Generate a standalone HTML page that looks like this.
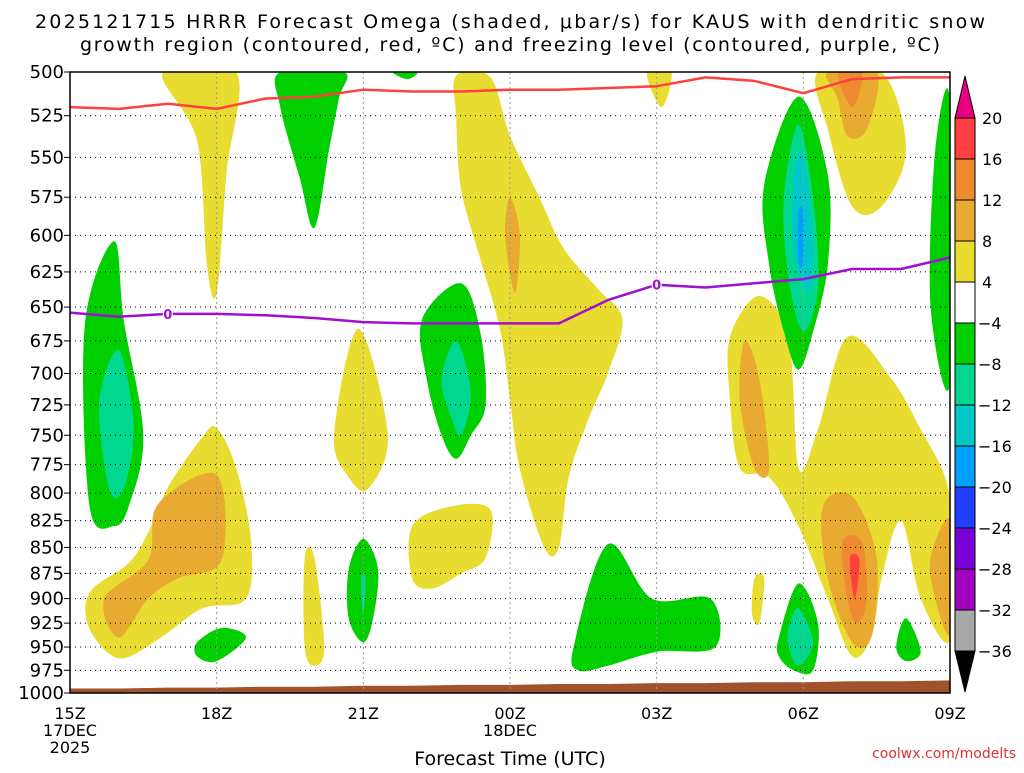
<!DOCTYPE html>
<html><head><meta charset="utf-8"><style>
body{margin:0;background:#fff;width:1024px;height:768px;overflow:hidden;font-family:"Liberation Sans",sans-serif}
svg text{font-family:"DejaVu Sans","Liberation Sans",sans-serif}
</style></head><body>
<svg id="chart" width="1024" height="768" xmlns="http://www.w3.org/2000/svg">
<g id="fills"></g>
<g id="grid"></g>
<g id="lines"></g>
<g id="axes"></g>
<g id="cbar"></g>
<text x="510" y="28" font-size="19" text-anchor="middle" textLength="950">2025121715 HRRR Forecast Omega (shaded, μbar/s) for KAUS with dendritic snow</text>
<text x="510" y="51" font-size="19" text-anchor="middle" textLength="860">growth region (contoured, red, ºC) and freezing level (contoured, purple, ºC)</text>
<text x="510" y="765" font-size="19" text-anchor="middle">Forecast Time (UTC)</text>
<text x="1016" y="758" font-size="14" text-anchor="end" fill="#e03030">coolwx.com/modelts</text>
</svg>
<script>
const NS="http://www.w3.org/2000/svg";
const pTicks=[500,525,550,575,600,625,650,675,700,725,750,775,800,825,850,875,900,925,950,975,1000];
const tTickHours=[0,3,6,9,12,15,18];
const tTickLabels=["15Z","18Z","21Z","00Z","03Z","06Z","09Z"];
const hours=[0,1,2,3,4,5,6,7,8,9,10,11,12,13,14,15,16,17,18];
const dgzTop=[520,521,518,521,515,514,510,511,511,510,510,509,508,503,505,512,504,503,503];
const freezLvl=[654,657,655,655,656,658,661,662,662,662,662,645,634,636,633,630,623,623,615];
const groundP=[995,995,994,994,993,993,992,992,991,991,990,990,989,989,988,988,987,987,986];
const cbLabels=["20","16","12","8","4","−4","−8","−12","−16","−20","−24","−28","−32","−36"];
const cbColors=["#ff4040","#f08a30","#e8aa30","#e8dc30","#ffffff","#00d000","#00d890","#00c8c8","#00a0ff","#2040ff","#7a00d8","#a000c0","#a8a8a8"];
const Y="#e8dc30",O="#e8aa30",OR="#f08a30",R="#ff4040",G="#00d000",T="#00d890",C="#00c8c8",B="#00a0ff";
const regions=[
[Y,[[1.9,500],[3.4,500],[3.2,560],[3.0,640],[2.8,620],[2.6,540]]],
[Y,[[7.9,502],[8.6,503],[9.0,537],[9.6,575],[10.1,609],[10.8,637],[11.3,659],[11.0,700],[10.6,737],[10.2,786],[10.0,850],[9.7,850],[9.2,779],[9.0,721],[8.8,667],[8.4,617],[8.0,570],[7.9,526]]],
[O,[[9.0,575],[9.2,600],[9.1,640],[8.9,600]]],
[Y,[[0.4,894],[1.2,865],[1.6,836],[2.0,795],[2.7,752],[3.0,744],[3.4,778],[3.7,843],[3.6,900],[2.7,910],[1.8,942],[1.0,962],[0.4,931]]],
[O,[[0.7,900],[1.6,862],[1.8,810],[3.0,784],[3.1,862],[2.2,880],[1.6,900],[1.0,940]]],
[Y,[[5.4,750],[5.9,666],[6.5,750],[6.1,796],[5.7,786]]],
[Y,[[4.8,860],[5.0,860],[5.2,950],[5.0,970],[4.8,950]]],
[Y,[[7.0,830],[7.8,812],[8.6,815],[8.5,860],[8.0,875],[7.4,890],[7.0,880]]],
[Y,[[11.8,500],[12.3,500],[12.1,520]]],
[Y,[[13.5,672],[14.1,642],[14.7,674],[14.9,778],[15.3,745],[15.9,672],[16.8,704],[17.4,745],[17.9,786],[18,825],[18,943],[17.4,900],[17.0,825],[16.6,880],[16.4,938],[16.0,960],[15.5,900],[14.9,830],[14.3,786],[13.7,778],[13.5,721]]],
[O,[[13.8,675],[14.1,704],[14.3,778],[14.0,778],[13.7,721]]],
[O,[[15.4,812],[16.0,803],[16.5,860],[16.4,938],[16.0,945],[15.5,880]]],
[OR,[[15.8,845],[16.2,845],[16.3,900],[16.1,925],[15.9,900]]],
[R,[[15.95,860],[16.15,862],[16.05,900]]],
[O,[[17.6,860],[18,825],[18,935],[17.7,900]]],
[Y,[[14.0,880],[14.2,880],[14.1,925],[13.95,915]]],
[Y,[[15.3,500],[16.6,500],[17.1,545],[16.6,581],[16.0,581],[15.5,533]]],
[O,[[15.5,500],[16.5,500],[16.3,533],[15.9,537],[15.7,515]]],
[OR,[[15.7,500],[16.2,500],[16.0,520]]],
[G,[[4.3,500],[5.6,500],[5.5,515],[5.3,545],[5.0,595],[4.7,563],[4.3,520]]],
[G,[[6.6,500],[7.1,500],[6.9,504]]],
[G,[[0.3,664],[0.9,604],[1.1,660],[1.5,750],[1.2,812],[0.9,830],[0.4,812]]],
[T,[[0.6,723],[1.0,682],[1.3,742],[1.1,796],[0.8,796]]],
[G,[[7.2,659],[8.0,633],[8.4,670],[8.5,725],[8.2,750],[7.9,770],[7.6,750],[7.3,705]]],
[T,[[7.6,705],[7.9,675],[8.2,715],[8.0,750],[7.8,735]]],
[G,[[5.7,871],[6.0,842],[6.3,871],[6.2,920],[6.0,945],[5.7,920]]],
[T,[[5.95,880],[6.05,880],[6.0,915]]],
[G,[[2.6,945],[3.1,930],[3.6,940],[3.0,965],[2.6,960]]],
[G,[[10.3,950],[11.0,847],[11.9,900],[13.1,900],[13.2,950],[12.0,955],[11.0,970],[10.4,975]]],
[G,[[14.2,567],[14.9,514],[15.5,561],[15.5,620],[15.2,668],[14.9,697],[14.6,668],[14.3,620]]],
[T,[[14.6,576],[14.9,530],[15.2,576],[15.3,635],[15.0,668],[14.7,630]]],
[C,[[14.8,560],[15.0,549],[15.2,605],[15.1,640],[14.8,610]]],
[B,[[14.9,585],[15.0,585],[15.0,618],[14.9,618]]],
[G,[[14.5,940],[14.9,885],[15.3,925],[15.2,975],[14.8,975],[14.5,960]]],
[T,[[14.7,930],[14.9,910],[15.2,945],[14.9,970],[14.7,950]]],
[G,[[16.9,950],[17.1,920],[17.4,955],[17.1,965]]],
[G,[[17.7,545],[18,517],[18,707],[17.6,648]]]
];
const X0=70,X1=950,Y0=72,Y1=693;
const xs=h=>X0+(X1-X0)*h/18;
const ys=p=>Y0+(Y1-Y0)*Math.log(p/500)/Math.log(2);
function mk(tag,attrs,parent){const e=document.createElementNS(NS,tag);for(const k in attrs)e.setAttribute(k,attrs[k]);parent.appendChild(e);return e;}
function smoothClosed(pts){
 const n=pts.length;let d="M"+pts[0][0].toFixed(1)+","+pts[0][1].toFixed(1);
 for(let i=0;i<n;i++){
  const p0=pts[(i-1+n)%n],p1=pts[i],p2=pts[(i+1)%n],p3=pts[(i+2)%n];
  const c1=[p1[0]+(p2[0]-p0[0])/6,p1[1]+(p2[1]-p0[1])/6],c2=[p2[0]-(p3[0]-p1[0])/6,p2[1]-(p3[1]-p1[1])/6];
  d+="C"+c1.map(v=>v.toFixed(1)).join(",")+" "+c2.map(v=>v.toFixed(1)).join(",")+" "+p2[0].toFixed(1)+","+p2[1].toFixed(1);
 }
 return d+"Z";
}
const fills=document.getElementById('fills'),grid=document.getElementById('grid'),lines=document.getElementById('lines'),axes=document.getElementById('axes'),cbar=document.getElementById('cbar');
mk('clipPath',{id:'pc'},fills).appendChild(Object.assign(document.createElementNS(NS,'rect'),{}));
document.querySelector('#pc rect').setAttribute('x',X0);document.querySelector('#pc rect').setAttribute('y',Y0);
document.querySelector('#pc rect').setAttribute('width',X1-X0);document.querySelector('#pc rect').setAttribute('height',Y1-Y0);
regions.forEach(r=>{
 const pts=r[1].map(q=>[xs(q[0]),ys(q[1])]);
 const e=mk('path',{d:smoothClosed(pts),fill:r[0],"clip-path":"url(#pc)"},fills);
 
 
});
{let d="M"+xs(0)+","+Y1;hours.forEach((h,i)=>d+="L"+xs(h)+","+ys(groundP[i]).toFixed(1));d+="L"+xs(18)+","+Y1+"Z";
const g=mk('path',{d:d,fill:"#a0522d"},fills);

}
pTicks.forEach(p=>{
 const y=ys(p);
 const l=mk('line',{x1:X0,x2:X1,y1:y,y2:y,stroke:"#000","stroke-width":1,"stroke-dasharray":"1,4"},grid);
 
 
 const tk=mk('line',{x1:X0-6,x2:X0,y1:y,y2:y,stroke:"#000"},axes);
 
 
 const t=mk('text',{x:X0-6,y:y+6,"font-size":18,"text-anchor":"end"},axes);t.textContent=p;
 
 
});
tTickHours.forEach((h,i)=>{
 const x=xs(h);
 if(i>0&&i<tTickHours.length-1){const l=mk('line',{x1:x,x2:x,y1:Y0,y2:Y1,stroke:"#999","stroke-dasharray":"2,3"},grid);
 
 }
 const t=mk('text',{x:x,y:719,"font-size":16,"text-anchor":"middle"},axes);t.textContent=tTickLabels[i];
 
 
});
[["17DEC",xs(0),736],["2025",xs(0),753],["18DEC",xs(9),736]].forEach(a=>{
 const t=mk('text',{x:a[1],y:a[2],"font-size":16,"text-anchor":"middle"},axes);t.textContent=a[0];
 
 
});
const fr=mk('rect',{x:X0,y:Y0,width:X1-X0,height:Y1-Y0,fill:"none",stroke:"#000","stroke-width":1.5},axes);


function polyl(vals,color,name){
 const pts=hours.map((h,i)=>xs(h).toFixed(1)+","+ys(vals[i]).toFixed(1)).join(" ");
 const e=mk('polyline',{points:pts,fill:"none",stroke:color,"stroke-width":2.5,"stroke-linejoin":"round"},lines);
 
 
}
polyl(dgzTop,"#ff4040","dendritic-growth-line");
polyl(freezLvl,"#a010d0","freezing-level-line");
[2,12].forEach(h=>{
 const i=hours.indexOf(h),x=xs(h),y=ys(freezLvl[i]);
 const r=mk('rect',{x:x-5,y:y-7,width:10,height:14,fill:"#fff"},lines);
 
 
 const t=mk('text',{x:x,y:y+5,"font-size":13,"text-anchor":"middle",fill:"#a010d0","font-weight":"bold"},lines);t.textContent="0";
 
 
});
const CB0=118,CB1=651,CX=955,CW=20,bh=(CB1-CB0)/cbColors.length;
cbColors.forEach((c,i)=>{
 const r=mk('rect',{x:CX,y:CB0+i*bh,width:CW,height:bh,fill:c,stroke:"#000","stroke-width":1},cbar);
 
 
});
const tp=mk('polygon',{points:`${CX},${CB0} ${CX+CW},${CB0} ${CX+CW/2},76`,fill:"#e8007f",stroke:"#000"},cbar);


const bp=mk('polygon',{points:`${CX},${CB1} ${CX+CW},${CB1} ${CX+CW/2},692`,fill:"#000",stroke:"#000"},cbar);


cbLabels.forEach((s,i)=>{
 const t=mk('text',{x:s.startsWith("−")?978:982,y:CB0+i*bh+6,"font-size":16},cbar);t.textContent=s;
 
 
});
</script>
</body></html>
